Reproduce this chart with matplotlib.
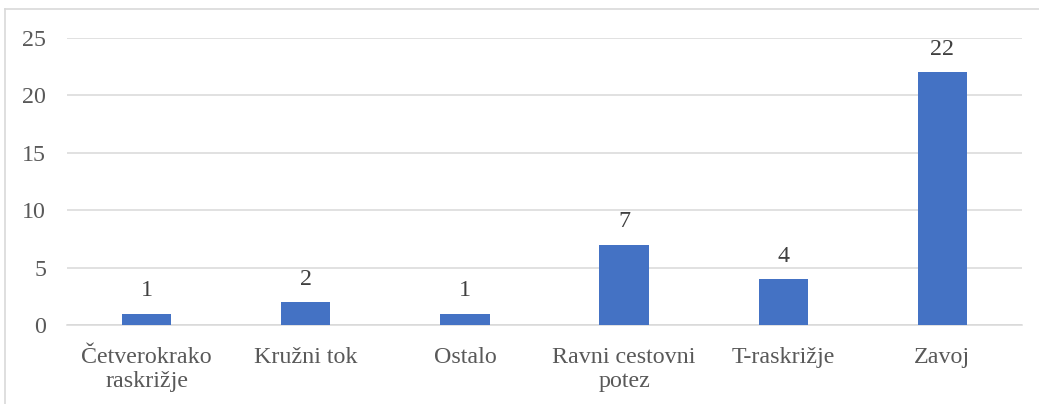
import matplotlib.pyplot as plt
from matplotlib.lines import Line2D

categories = ['Četverokrako\nraskrižje', 'Kružni tok', 'Ostalo',
              'Ravni cestovni\npotez', 'T-raskrižje', 'Zavoj']
values = [1, 2, 1, 7, 4, 22]
yticks = [0, 5, 10, 15, 20, 25]

plt.rcParams['font.family'] = ['Liberation Serif', 'DejaVu Serif']
text_color = '#595959'
grid_color = '#D9D9D9'
bar_color = '#4472C4'
fs = 17.3

fig = plt.figure(figsize=(10.39, 4.04), dpi=100)
ax = fig.add_axes([67 / 1039, 1 - 325 / 404, 955 / 1039, 287 / 404])

x = range(len(categories))
bars = ax.bar(x, values, width=0.31, color=bar_color, zorder=3)
for b, v in zip(bars, values):
    ax.annotate(str(v), (b.get_x() + b.get_width() / 2, v), xytext=(0, 9),
                textcoords='offset points', ha='center', va='bottom',
                fontsize=fs, color='#404040')

ax.set_xlim(-0.5, len(categories) - 0.5)
ax.set_ylim(0, 25)
ax.set_yticks(yticks)
ax.set_xticks(list(x))
ax.set_xticklabels(categories, linespacing=1.2)
ax.tick_params(axis='both', length=0, labelsize=fs, labelcolor=text_color)
ax.tick_params(axis='y', pad=15)
ax.tick_params(axis='x', pad=16)
ax.grid(axis='y', color=grid_color, linewidth=1.1, zorder=0)
for s in ['top', 'right', 'left']:
    ax.spines[s].set_visible(False)
ax.spines['bottom'].set_color(grid_color)
ax.spines['bottom'].set_linewidth(1.1)

# chart area border
fig.add_artist(Line2D([4.5 / 1039, 4.5 / 1039], [0, 1 - 9 / 404],
                      transform=fig.transFigure, color=grid_color, linewidth=1.2))
fig.add_artist(Line2D([4.5 / 1039, 1], [1 - 9 / 404, 1 - 9 / 404],
                      transform=fig.transFigure, color=grid_color, linewidth=1.2))

fig.savefig('out.png', dpi=100)
